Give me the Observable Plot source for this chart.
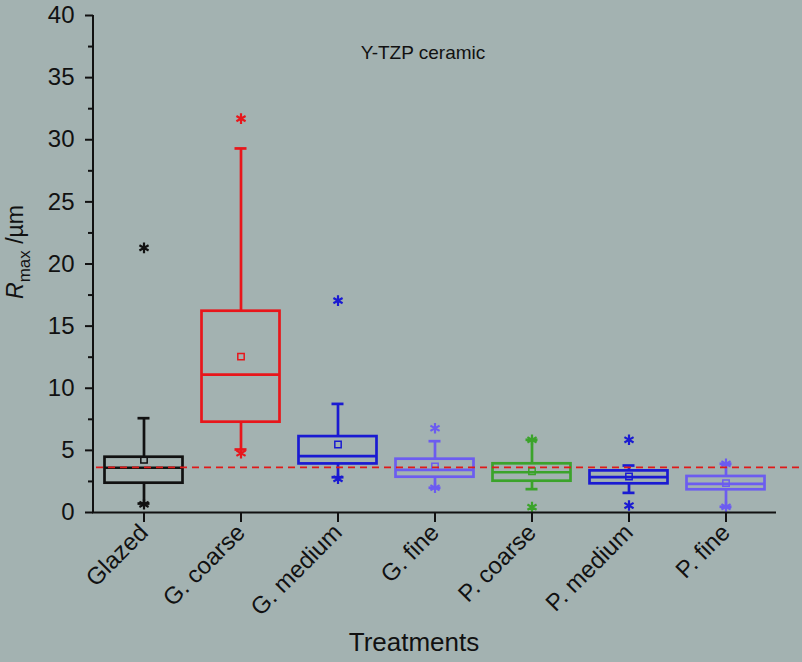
<!DOCTYPE html>
<html>
<head>
<meta charset="utf-8">
<script src="https://cdn.jsdelivr.net/npm/d3@7"></script>
<script src="https://cdn.jsdelivr.net/npm/@observablehq/plot@0.6"></script>
<style>
  html, body { margin: 0; padding: 0; background: #a3b2b1; }
  #chart { width: 802px; height: 662px; }
  svg { font-family: "Liberation Sans", Arial, sans-serif; }
</style>
</head>
<body>
<div id="chart"></div>
<script>
const categories = ["Glazed", "G. coarse", "G. medium", "G. fine", "P. coarse", "P. medium", "P. fine"];
const colors = ["#111111", "#e8161b", "#1a1ad2", "#6c5cf0", "#3ba32b", "#1a1ad2", "#6c5cf0"];
const q1 = [2.36, 7.27, 3.91, 2.84, 2.52, 2.31, 1.83];
const median = [3.6, 11.1, 4.53, 3.43, 3.24, 2.84, 2.31];
const q3 = [4.45, 16.2, 6.11, 4.29, 3.92, 3.35, 2.9];
const mean = [4.24, 12.55, 5.47, 3.70, 3.32, 2.9, 2.36];
const whiskerLow = [0.72, 5.07, 2.84, 1.99, 1.88, 1.58, 0.46];
const whiskerHigh = [7.59, 29.3, 8.74, 5.74, 5.85, 3.78, 3.92];
const outlierCategory = ["Glazed", "Glazed", "G. coarse", "G. coarse", "G. medium", "G. medium", "G. fine", "G. fine", "P. coarse", "P. coarse", "P. medium", "P. medium", "P. fine", "P. fine"];
const outlierValue = [21.3, 0.66, 31.7, 4.77, 17.05, 2.71, 6.78, 1.99, 5.85, 0.43, 5.85, 0.56, 3.92, 0.46];
const refLine = 3.63;
const majorTicks = [0, 5, 10, 15, 20, 25, 30, 35, 40];
const minorTicks = [2.5, 7.5, 12.5, 17.5, 22.5, 27.5, 32.5, 37.5];
const title = "Y-TZP ceramic";
const xLabel = "Treatments";

const colorOf = Object.fromEntries(categories.map((c, i) => [c, colors[i]]));
const boxes = categories.map((c, i) => ({
  cat: c, q1: q1[i], median: median[i], q3: q3[i], mean: mean[i],
  lo: whiskerLow[i], hi: whiskerHigh[i], color: colors[i]
}));
const outliers = outlierCategory.map((c, i) => ({cat: c, value: outlierValue[i], color: colorOf[c]}));

const chart = Plot.plot({
  width: 802,
  height: 662,
  marginLeft: 93,
  marginRight: 26,
  marginTop: 15,
  marginBottom: 150,
  style: {background: "#a3b2b1", fontFamily: "Liberation Sans, Arial, sans-serif", color: "#111"},
  x: {type: "band", domain: categories, padding: 0, label: null},
  y: {domain: [0, 40], label: null},
  marks: [
    Plot.axisY({ticks: minorTicks, tickSize: 5, tickFormat: () => "", strokeWidth: 2, label: null}),
    Plot.axisY({ticks: majorTicks, tickSize: 8, tickPadding: 11, fontSize: 24, strokeWidth: 2, label: null}),
    Plot.axisX({tickSize: 10, tickPadding: 6, tickRotate: -45, fontSize: 24, strokeWidth: 2, label: null}),
    // whiskers
    Plot.ruleX(boxes, {x: "cat", y1: "lo", y2: "q1", stroke: "color", strokeWidth: 2.7}),
    Plot.ruleX(boxes, {x: "cat", y1: "q3", y2: "hi", stroke: "color", strokeWidth: 2.7}),
    Plot.tickY(boxes, {x: "cat", y: "lo", stroke: "color", strokeWidth: 2.7, insetLeft: 42.5, insetRight: 42.5}),
    Plot.tickY(boxes, {x: "cat", y: "hi", stroke: "color", strokeWidth: 2.7, insetLeft: 42.5, insetRight: 42.5}),
    // boxes
    Plot.barY(boxes, {x: "cat", y1: "q1", y2: "q3", fill: "none", stroke: "color", strokeWidth: 2.7, insetLeft: 9.5, insetRight: 9.5}),
    Plot.tickY(boxes, {x: "cat", y: "median", stroke: "color", strokeWidth: 2.7, insetLeft: 9.5, insetRight: 9.5}),
    // means
    Plot.dot(boxes, {x: "cat", y: "mean", symbol: "square", r: 3.6, stroke: "color", strokeWidth: 1.5, fill: "none"}),
    // outliers
    Plot.dot(outliers, {x: "cat", y: "value", symbol: "asterisk", r: 5, stroke: "color", strokeWidth: 2.2}),
    // reference line
    Plot.ruleY([refLine], {stroke: "#e01a1a", strokeWidth: 1.6, strokeDasharray: "7,5", insetLeft: 3, insetRight: -24}),
    // axis lines
    Plot.ruleY([0], {stroke: "#111", strokeWidth: 2, insetLeft: -1}),
    Plot.text([title], {frameAnchor: "top", dy: 30, dx: -12, fontSize: 19, fill: "#111"})
  ]
});

const svg = d3.select(chart);
const ys = chart.scale("y");
const xs = chart.scale("x");
// left axis line
svg.append("line")
  .attr("x1", xs.range[0]).attr("x2", xs.range[0])
  .attr("y1", ys.range[0] + 1).attr("y2", ys.range[1])
  .attr("stroke", "#111").attr("stroke-width", 2);
// y-axis label with italic R and subscript
const yl = svg.append("text")
  .attr("transform", `translate(23,252) rotate(-90)`)
  .attr("text-anchor", "middle")
  .attr("font-size", 23)
  .attr("fill", "#111");
yl.append("tspan").attr("font-style", "italic").text("R");
yl.append("tspan").attr("font-size", 17).attr("dy", 7).text("max");
yl.append("tspan").attr("dy", -7).text(" /\u00b5m");
// x-axis label
svg.append("text")
  .attr("x", 414).attr("y", 651)
  .attr("text-anchor", "middle")
  .attr("font-size", 26)
  .attr("fill", "#111")
  .text(xLabel);

document.getElementById("chart").appendChild(chart);
</script>
</body>
</html>
